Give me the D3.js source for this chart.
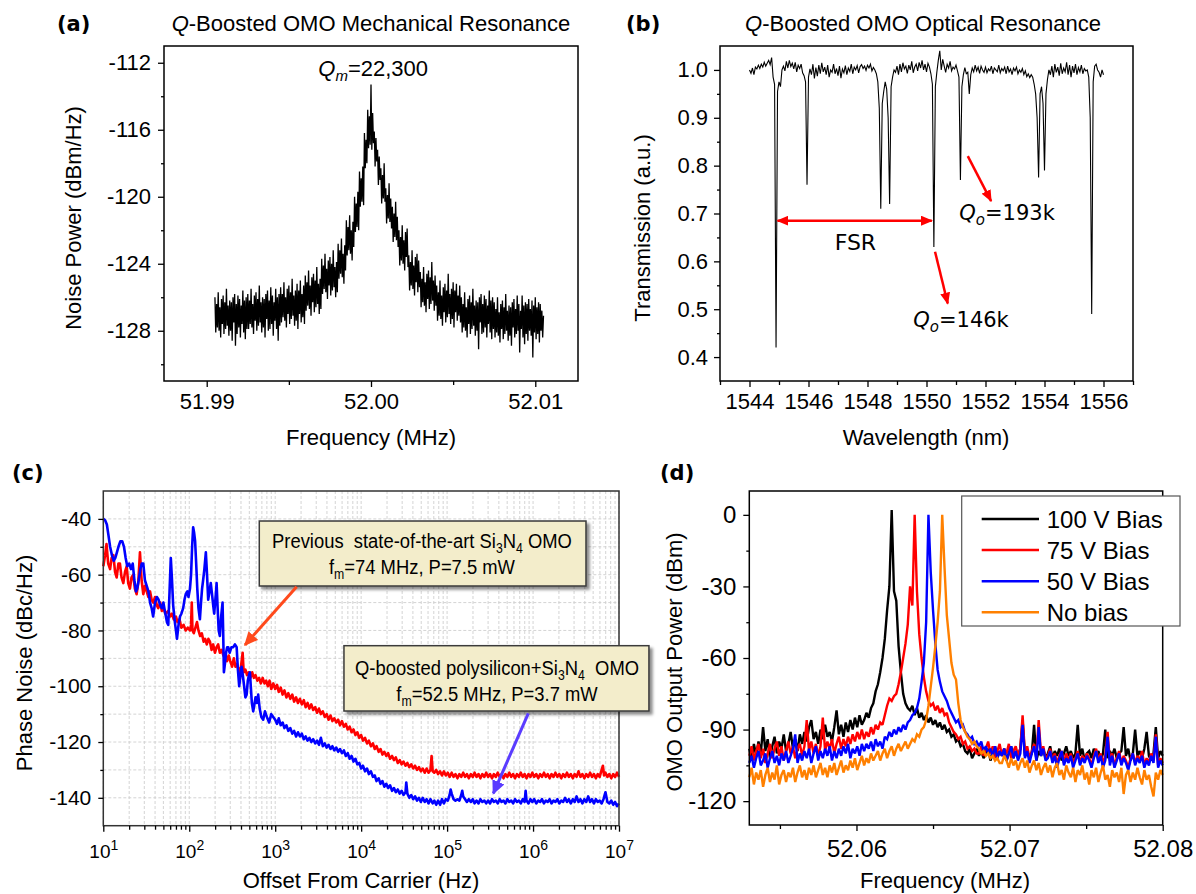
<!DOCTYPE html>
<html>
<head>
<meta charset="utf-8">
<script src="https://cdn.jsdelivr.net/npm/d3@7"></script>
<style>
  body { margin: 0; background: #fff; }
  svg { display: block; }
</style>
</head>
<body>
<script>
const width = 1196;
const height = 894;
const SANS = "'Liberation Sans', Arial, sans-serif";
const WIDE = "'DejaVu Sans', Verdana, sans-serif";

// ---------- (a) mechanical resonance: analyzer sweep, one value per bin ----------
const aFreqStart = 51.9905;
const aFreqStep = 0.00005;
const aNoise = [
  -126.0, -128.1, -126.4, -127.8, -125.7, -128.0, -126.6, -128.4, -126.1, -127.6, -125.9, -128.2, -126.3, -127.9, -125.5, -127.7, -126.5, -128.3, -126.2, -128.0,
  -126.3, -128.6, -126.0, -127.5, -125.8, -128.9, -126.4, -128.2, -125.9, -127.8, -126.1, -128.4, -126.5, -127.6, -125.6, -128.1, -126.2, -128.5, -126.0, -127.9,
  -125.8, -127.9, -126.2, -127.6, -125.5, -127.8, -126.4, -128.2, -125.9, -127.4, -125.7, -128.0, -126.1, -127.7, -125.3, -127.5, -126.3, -128.1, -126.0, -127.8,
  -126.1, -128.4, -125.8, -127.3, -125.6, -128.0, -126.2, -127.9, -125.4, -127.6, -125.9, -128.3, -126.3, -127.4, -125.5, -127.9, -126.0, -128.6, -125.8, -127.7,
  -125.4, -127.5, -125.8, -127.2, -125.1, -127.4, -126.0, -127.8, -125.5, -127.0, -125.3, -127.6, -125.7, -127.3, -124.9, -127.1, -125.9, -127.7, -125.6, -127.4,
  -125.2, -127.9, -125.6, -127.0, -125.0, -127.5, -125.8, -127.2, -125.3, -127.6,
  -124.7, -126.8, -125.1, -126.5, -124.4, -126.7, -125.3, -127.1, -124.8, -126.3, -124.6, -126.9, -125.0, -126.6, -124.2, -126.4, -125.2, -127.0, -124.9, -126.7,
  -123.7, -125.8, -124.1, -125.5, -123.4, -125.7, -124.3, -126.1, -123.8, -125.3, -123.6, -125.9, -124.0, -125.6, -123.2, -125.4, -124.2, -126.0, -123.9, -125.7,
  -122.8, -124.9, -123.2, -124.6, -122.5, -124.8, -123.4, -125.2, -122.9, -124.4,
  -121.4, -123.5, -121.8, -123.2, -121.1, -123.4, -122.0, -123.8, -121.5, -123.0,
  -120.0, -122.1, -120.4, -121.8, -119.7, -122.0,
  -118.5, -120.6, -118.9, -120.3, -118.2, -120.5,
  -116.2, -118.3, -116.6, -118.0,
  -114.8, -117.1, -115.2, -116.9, -113.3, -117.2, -115.0, -116.8,
  -116.1, -118.2, -116.5, -117.9,
  -117.2, -119.3, -117.6, -119.0,
  -118.3, -120.4, -118.7, -120.1, -118.0, -120.3,
  -119.5, -121.6, -119.9, -121.3, -119.2, -121.5, -120.1, -121.9,
  -120.6, -122.7, -121.0, -122.4, -120.3, -122.6, -121.2, -123.0,
  -122.0, -124.1, -122.4, -123.8, -121.7, -124.0, -122.6, -124.4, -122.1, -123.6, -121.9, -124.2,
  -123.5, -125.6, -123.9, -125.3, -123.2, -125.5, -124.1, -125.9, -123.6, -125.1, -123.4, -125.7, -123.8, -125.4,
  -124.5, -126.6, -124.9, -126.3, -124.2, -126.5, -125.1, -126.9, -124.6, -126.1, -124.4, -126.7, -124.8, -126.4, -123.9, -126.2, -125.0, -126.8, -124.7, -126.5,
  -125.3, -127.4, -125.7, -127.1, -125.0, -127.3, -125.9, -127.7, -125.4, -126.9, -125.2, -127.5, -125.6, -127.2, -124.6, -127.0, -125.8, -127.6, -125.5, -127.3,
  -125.1, -127.8, -125.6, -126.9, -125.2, -127.4, -125.9, -127.1, -125.3, -127.5,
  -126.0, -128.1, -126.4, -127.8, -125.7, -128.0, -126.6, -128.4, -126.1, -127.6, -125.9, -128.2, -126.3, -127.9, -125.5, -127.7, -126.5, -128.3, -126.2, -128.0,
  -126.3, -129.1, -126.0, -127.5, -125.8, -128.2, -126.4, -128.1, -125.9, -127.8, -126.1, -128.4, -126.5, -127.6, -125.6, -128.1, -126.2, -128.5, -126.0, -127.9,
  -126.3, -128.4, -126.7, -128.1, -126.0, -128.3, -126.9, -128.7, -126.4, -127.9, -126.2, -128.5, -126.6, -128.2, -125.8, -128.0, -126.8, -128.6, -126.5, -128.3,
  -126.6, -128.9, -126.3, -127.8, -126.1, -128.4, -126.7, -128.2, -125.9, -128.0, -126.4, -129.3, -126.8, -127.9, -125.9, -128.4, -126.5, -128.8, -126.3, -128.2,
  -126.4, -128.6, -126.1, -128.0, -126.7, -128.3, -126.2, -129.6, -126.5, -128.1, -126.0, -128.5, -126.6, -128.2, -126.3, -128.7, -126.4, -128.0, -126.8, -128.4,
  -127.1
];
const aYTicks = [-128, -124, -120, -116, -112];
const aYMinor = [-130, -126, -122, -118, -114];
const aXTicks = [51.99, 52.0, 52.01];
const aXMinor = [51.995, 52.005];

// ---------- (b) optical transmission: one value every 0.05 nm ----------
const bWaveStart = 1544;
const bWaveStep = 0.05;
const bTrans = [
  1.000, 0.993, 1.004, 0.990, 1.006, 1.002, 1.010, 1.003, 1.012, 1.006, 1.016, 1.008, 1.014, 1.020, 1.011, 1.026, 0.985, 0.970, 0.420, 0.955,
  0.975, 0.965, 1.000, 1.008, 0.998, 1.018, 1.004, 1.020, 1.007, 1.014, 1.002, 1.016, 0.996, 1.010, 1.003, 1.012, 0.994, 0.988, 0.975, 0.760,
  0.985, 1.002, 0.990, 1.012, 0.982, 1.005, 0.987, 1.010, 0.992, 1.015, 0.996, 1.006, 0.990, 1.010, 0.985, 1.000, 0.995, 1.012, 0.992, 1.003,
  0.988, 1.008, 0.983, 1.002, 0.994, 1.009, 0.990, 1.004, 0.997, 1.012, 0.992, 1.006, 1.000, 1.009, 0.994, 1.007, 1.011, 1.003, 1.008, 0.999,
  1.010, 1.004, 1.012, 0.998, 1.005, 1.000, 0.992, 0.975, 0.920, 0.710, 0.930, 0.955, 0.975, 0.960, 0.900, 0.720, 0.965, 0.985, 1.000, 0.995,
  1.008, 0.990, 1.012, 0.996, 1.015, 1.002, 1.008, 0.993, 1.010, 1.000, 1.018, 0.994, 1.006, 1.012, 0.998, 1.016, 1.004, 1.020, 1.000, 1.012,
  0.996, 1.014, 1.006, 0.992, 0.970, 0.630, 0.965, 0.995, 1.020, 1.040, 1.000, 1.022, 1.008, 0.995, 1.012, 1.004, 1.018, 0.998, 1.006, 1.002,
  1.010, 0.998, 0.985, 0.770, 0.965, 0.990, 1.005, 0.992, 0.995, 0.950, 0.990, 1.004, 0.996, 1.010, 0.998, 1.006, 0.993, 1.008, 1.000, 0.995,
  1.006, 0.994, 1.002, 0.998, 1.008, 0.992, 1.004, 1.000, 0.996, 1.010, 0.994, 1.003, 0.998, 1.006, 0.992, 1.008, 0.996, 1.002, 0.990, 1.004,
  0.998, 1.006, 0.992, 1.000, 0.995, 1.003, 0.990, 0.998, 0.986, 0.992, 0.984, 0.990, 0.985, 0.970, 0.950, 0.900, 0.775, 0.950, 0.965, 0.930,
  0.790, 0.950, 0.980, 1.000, 0.990, 1.008, 0.985, 1.012, 0.995, 1.006, 0.988, 1.014, 0.992, 1.004, 0.996, 1.016, 0.990, 1.010, 0.985, 1.008,
  0.994, 1.012, 0.990, 1.005, 0.996, 1.010, 0.992, 1.003, 0.998, 1.000, 0.985, 0.900, 0.490, 0.975, 1.008, 1.012, 1.000, 0.995, 0.985, 1.000,
  0.990
];
const bYTicks = [0.4, 0.5, 0.6, 0.7, 0.8, 0.9, 1.0];
const bYMinor = [0.45, 0.55, 0.65, 0.75, 0.85, 0.95];
const bXTicks = [1544, 1546, 1548, 1550, 1552, 1554, 1556];
const bXMinor = [1543, 1545, 1547, 1549, 1551, 1553, 1555, 1557];

// ---------- (c) phase noise, [offset Hz, dBc/Hz] ----------
const cPrevious = [
  [10,-57],[10.5,-53],[10.9,-49],[11.4,-56],[12,-58],[12.5,-54],[13.1,-53],[13.7,-59],[14.3,-61],[15,-56],[15.6,-56],[16.3,-61],[17.1,-63],[17.9,-59],[18.7,-57],
  [19.5,-63],[20.4,-65],[21.3,-61],[22.3,-60],[23.3,-65],[24.4,-67],[25.5,-63],[26.7,-52],[27.9,-62],[29.2,-67],[30.5,-64],[32,-66],[33.4,-68],[35,-66],[36.5,-69],
  [38.1,-70],[40,-68],[42,-71],[43.6,-72],[46,-70],[48,-73],[50,-72],[53,-74],[57,-73],[60,-75],[63,-74],[66,-76],[70,-75],[73,-77],[77,-76],[81,-79],[86,-78],
  [91,-80],[96,-79],[102,-80],[105,-78],[107,-70],[109,-80],[113,-81],[118,-79],[123,-77],[128,-80],[134,-82],[140,-81],[147,-84],[153,-83],[160,-85],[167,-83],
  [174,-84],[182,-87],[190,-85],[199,-88],[208,-86],[217,-85],[227,-88],[238,-87],[250,-89],[262,-88],[275,-91],[288,-89],[300,-91],[315,-93],[330,-90],[345,-93],
  [360,-92],[380,-95],[400,-93],[418,-88],[430,-95],[450,-94],[470,-96],[490,-95],[515,-97],[540,-95],[565,-97],[590,-96],[620,-98],[650,-97],[680,-99],[715,-97],
  [750,-99],[785,-98],[820,-100],[860,-98],[900,-101],[950,-99],
  [1000,-101],[1050,-99.5],[1100,-102],[1160,-100.5],[1220,-103],[1280,-101.5],[1350,-104],[1420,-102.5],[1500,-104.5],[1580,-103],[1660,-105.5],[1750,-104],
  [1840,-106],[1940,-104.5],[2040,-106.5],[2150,-105],[2260,-107.5],[2380,-106],[2500,-108],[2630,-106.5],[2770,-108.5],[2920,-107.5],[3070,-109.5],[3230,-108],
  [3400,-110],[3580,-109],[3770,-111],[3970,-110],[4180,-112],[4400,-110.5],[4630,-112.5],[4870,-111.5],[5130,-113],[5400,-112],[5680,-114],[5980,-112.5],
  [6300,-114.5],[6630,-113.5],[6980,-115.5],[7350,-114.5],[7740,-116.5],[8150,-115.5],[8580,-117.5],[9030,-116.5],[9500,-118.5],
  [1e4,-117.5],[1.05e4,-119.5],[1.11e4,-118.5],[1.17e4,-120.5],[1.23e4,-119.5],[1.3e4,-121.5],[1.37e4,-120.5],[1.44e4,-122.5],[1.51e4,-121.5],[1.6e4,-123.5],
  [1.68e4,-122.5],[1.77e4,-124.5],[1.86e4,-123.5],[1.96e4,-125],[2.06e4,-124],[2.17e4,-126],[2.29e4,-125],[2.41e4,-126.5],[2.53e4,-125.5],[2.67e4,-127.5],
  [2.81e4,-126.5],[2.96e4,-128],[3.11e4,-127],[3.28e4,-128.5],[3.45e4,-127.5],[3.63e4,-129],[3.83e4,-128],[4.03e4,-129.5],[4.24e4,-128.5],[4.47e4,-130],
  [4.7e4,-129],[4.95e4,-130.5],[5.21e4,-129.5],[5.49e4,-131],[5.78e4,-129.5],[6.08e4,-131],[6.4e4,-130],[6.6e4,-125],[6.8e4,-130.5],[7.1e4,-131],[7.47e4,-130],
  [7.86e4,-131.5],[8.28e4,-130.5],[8.72e4,-132],[9.18e4,-130.5],[9.66e4,-132],
  [1.02e5,-131],[1.07e5,-132.5],[1.13e5,-131],[1.19e5,-132.5],[1.25e5,-131.5],[1.32e5,-133],[1.39e5,-131.5],[1.46e5,-132.5],[1.54e5,-131],[1.62e5,-132.5],
  [1.7e5,-131.5],[1.79e5,-133],[1.89e5,-131.5],[1.99e5,-132.5],[2.09e5,-131],[2.2e5,-132.5],[2.32e5,-131.5],[2.44e5,-133],[2.57e5,-131.5],[2.71e5,-132.5],
  [2.85e5,-131],[3e5,-132.5],[3.16e5,-131.5],[3.33e5,-133],[3.5e5,-131.5],[3.69e5,-132.5],[3.88e5,-131],[4.09e5,-132.5],[4.3e5,-131.5],[4.53e5,-133],
  [4.77e5,-131.5],[5.02e5,-132.5],[5.29e5,-131],[5.57e5,-132.5],[5.86e5,-131.5],[6.17e5,-133],[6.5e5,-131.5],[6.84e5,-132.5],[7.2e5,-131],[7.58e5,-132.5],
  [7.98e5,-131.5],[8.4e5,-133],[8.85e5,-131.5],[9.32e5,-132.5],[9.81e5,-131],
  [1.03e6,-132.5],[1.09e6,-131.5],[1.15e6,-133],[1.21e6,-131.5],[1.27e6,-132.5],[1.34e6,-131],[1.41e6,-132.5],[1.48e6,-131.5],[1.56e6,-133],[1.64e6,-131.5],
  [1.73e6,-132.5],[1.82e6,-131],[1.92e6,-132.5],[2.02e6,-131.5],[2.13e6,-133],[2.24e6,-131.5],[2.36e6,-132.5],[2.48e6,-131],[2.61e6,-132.5],[2.75e6,-131.5],
  [2.9e6,-133],[3.05e6,-131.5],[3.21e6,-132.5],[3.38e6,-130.5],[3.56e6,-132.5],[3.75e6,-131.5],[3.95e6,-133],[4.16e6,-131.5],[4.38e6,-132.5],[4.61e6,-131],
  [4.85e6,-132.5],[5.11e6,-131.5],[5.38e6,-133],[5.66e6,-131.5],[5.96e6,-132.5],[6.28e6,-130],[6.5e6,-128.5],[6.7e6,-132],[6.96e6,-131],[7.33e6,-132.5],
  [7.72e6,-131.5],[8.13e6,-133],[8.56e6,-131.5],[9.01e6,-132.5],[9.49e6,-131],[1e7,-132.5]
];
const cBoosted = [
  [10,-40],[10.5,-40.5],[11,-42],[11.5,-46],[12,-50],[12.6,-53],[13.2,-55],[13.8,-54],[14.4,-52],[15,-50],[15.8,-48],[16.6,-48],[17.4,-50],[18.2,-54],[19,-57],
  [20,-56],[21,-58],[22,-56],[23,-62],[24,-66],[24.8,-65],[25.8,-62],[27,-58],[28,-56],[29.2,-56],[30.5,-62],[32,-64],[33.5,-66],[35,-70],[36.5,-72],[38,-75],
  [40,-70],[42,-68],[44,-69],[46,-71],[48,-72],[50,-70],[52,-73],[55,-77],[57,-78],[59,-66],[61,-54],[63,-62],[65,-71],[68,-77],[70,-80],[72,-83],[75,-78],
  [78,-75],[81,-74],[85,-72],[88,-69],[91,-67],[95,-66],[98,-68],[102,-65],[105,-60],[108,-50],[111,-43],[114,-45],[117,-48],[120,-55],[124,-65],[128,-72],
  [133,-76],[137,-70],[141,-65],[145,-62],[150,-58],[156,-52],[161,-60],[166,-69],[172,-66],[178,-63],[184,-67],[190,-71],[195,-74],[200,-70],[205,-66],
  [208,-63],[214,-72],[220,-80],[227,-82],[235,-75],[244,-70],[248,-80],[253,-95],[260,-92],[268,-88],[276,-86],[284,-86],[295,-88],[310,-86],[325,-86],
  [340,-85],[356,-86],[368,-94],[381,-100],[395,-96],[406,-93],[420,-96],[435,-100],[450,-104],[465,-103],[480,-98],[495,-96],[508,-95],[520,-100],[535,-106],
  [555,-109],[570,-107],[590,-104],[610,-106],[634,-103],[660,-108],[690,-111],[725,-112],[760,-109],[800,-111],[850,-113],[900,-110],[948,-111],
  [1000,-112],[1050,-113.5],[1100,-111.5],[1160,-114],[1220,-113],[1280,-115],[1350,-114],[1420,-116],[1500,-115],[1580,-117],[1660,-116],[1750,-118],
  [1840,-116.5],[1940,-118],[2040,-117],[2150,-119],[2260,-118],[2380,-119.5],[2500,-118.5],[2630,-120],[2770,-119],[2920,-120.5],[3070,-119.5],[3230,-121],
  [3400,-118.5],[3580,-121.5],[3770,-120.5],[3970,-122],[4180,-121],[4400,-122.5],[4630,-121.5],[4870,-123],[5130,-122],[5400,-123.5],[5680,-122.5],
  [5980,-124],[6300,-123],[6630,-125],[6980,-124],[7350,-126],[7740,-125],[8150,-127],[8580,-126],[9030,-128],[9500,-127.5],
  [1e4,-129.5],[1.05e4,-128.5],[1.11e4,-130.5],[1.17e4,-129.5],[1.23e4,-131.5],[1.3e4,-130.5],[1.37e4,-132.5],[1.44e4,-132],[1.51e4,-134],[1.6e4,-133],
  [1.68e4,-135],[1.77e4,-134],[1.86e4,-136],[1.96e4,-135],[2.06e4,-136.5],[2.17e4,-135.5],[2.29e4,-137.5],[2.41e4,-136.5],[2.53e4,-138],[2.67e4,-137],
  [2.81e4,-138.5],[2.96e4,-137.5],[3.11e4,-139],[3.28e4,-138],[3.35e4,-134.5],[3.45e4,-138.5],[3.63e4,-140],[3.83e4,-139],[4.03e4,-140.5],[4.24e4,-139.5],
  [4.47e4,-141],[4.7e4,-140],[4.95e4,-141.5],[5.21e4,-140],[5.49e4,-141.5],[5.78e4,-140.5],[6.08e4,-142],[6.4e4,-140.5],[6.8e4,-142],[7.1e4,-141],
  [7.47e4,-142.5],[7.86e4,-141],[8.28e4,-142.5],[8.72e4,-140.5],[9.18e4,-142],[9.66e4,-140.5],
  [1.02e5,-141],[1.07e5,-139],[1.1e5,-137],[1.13e5,-138.5],[1.19e5,-140.5],[1.25e5,-141],[1.32e5,-140.5],[1.39e5,-141],[1.46e5,-139],[1.5e5,-137.5],
  [1.54e5,-139.5],[1.62e5,-140.5],[1.7e5,-141.5],[1.79e5,-140.5],[1.89e5,-141.5],[1.99e5,-140.5],[2.09e5,-142],[2.2e5,-141],[2.32e5,-142],[2.44e5,-140.5],
  [2.57e5,-141.5],[2.71e5,-141],[2.85e5,-142],[3e5,-141],[3.16e5,-142],[3.33e5,-140.5],[3.5e5,-141.5],[3.69e5,-141],[3.88e5,-142],[4.09e5,-140.5],
  [4.3e5,-141.5],[4.53e5,-141],[4.77e5,-142],[5.02e5,-140.5],[5.29e5,-141.5],[5.57e5,-141],[5.86e5,-142],[6.17e5,-140.5],[6.5e5,-141.5],[6.84e5,-141],
  [7.2e5,-142],[7.58e5,-140.5],[7.98e5,-141.5],[8.2e5,-137.5],[8.4e5,-141],[8.85e5,-142],[9.32e5,-140.5],[9.81e5,-141.5],
  [1.03e6,-140.5],[1.09e6,-142],[1.15e6,-141],[1.21e6,-141.5],[1.27e6,-140.5],[1.34e6,-142],[1.41e6,-141],[1.48e6,-141.5],[1.56e6,-140.5],[1.64e6,-142],
  [1.73e6,-141],[1.82e6,-141.5],[1.92e6,-140.5],[2.02e6,-142],[2.13e6,-141],[2.24e6,-141.5],[2.36e6,-140],[2.48e6,-141.5],[2.61e6,-140.5],[2.75e6,-142],
  [2.9e6,-140.5],[3.05e6,-141.5],[3.21e6,-139.5],[3.38e6,-141.5],[3.56e6,-140.5],[3.75e6,-142],[3.95e6,-140.5],[4.16e6,-141.5],[4.38e6,-139.5],[4.61e6,-141.5],
  [4.85e6,-140.5],[5.11e6,-142],[5.38e6,-140.5],[5.66e6,-141.5],[5.96e6,-141],[6.28e6,-142],[6.6e6,-140.5],[6.96e6,-138],[7.33e6,-141.5],[7.72e6,-142],
  [8.13e6,-141],[8.56e6,-142.5],[9.01e6,-141.5],[9.49e6,-143],[1e7,-142]
];
const cYTicks = [-140, -120, -100, -80, -60, -40];
const cYMinor = [-130, -110, -90, -70, -50];
const cGridY = [-140, -130, -120, -110, -100, -90, -80, -70, -60, -50, -40];
const cDecades = [1e1, 1e2, 1e3, 1e4, 1e5, 1e6, 1e7];
const cMinorMantissa = [2, 3, 4, 5, 6, 7, 8, 9];

// ---------- (d) OMO output spectra: one value per 0.00015 MHz bin ----------
const dFreqStart = 52.053;
const dFreqStep = 0.00015;
const dBias100 = [
  -98, -103, -96, -101, -95, -100, -89, -99, -94, -102,
  -97, -93, -100, -95, -98, -92, -99, -96, -91, -98,
  -94, -99, -92, -96, -91, -95, -89, -86, -94, -91,
  -96, -90, -94, -88, -93, -91, -95, -89, -82, -92,
  -88, -93, -87, -91, -86, -90, -85, -89, -84, -88,
  -86, -83, -85, -81, -79, -74, -71, -66, -60, -52,
  -40, -30, 2, -32, -36, -55, -66, -75, -79, -81,
  -82, -80, -84, -81, -85, -83, -86, -84, -87, -85,
  -88, -86, -89, -87, -90, -88, -91, -90, -93, -92,
  -95, -94, -97, -96, -99, -100, -98, -102, -100, -98,
  -101, -99, -102, -100, -98, -103, -100, -97, -102, -99,
  -101, -98, -103, -100, -97, -102, -99, -101, -98, -86,
  -101, -99, -102, -100, -88, -103, -99, -101, -98, -102,
  -100, -97, -102, -99, -101, -98, -103, -100, -97, -101,
  -99, -102, -100, -88, -101, -98, -103, -100, -99, -102,
  -98, -101, -99, -103, -100, -90, -102, -99, -101, -98,
  -102, -100, -99, -89, -101, -98, -103, -100, -90, -101,
  -99, -102, -98, -91, -101, -103, -100, -89, -102, -99,
  -101
];
const dBias75 = [
  -101, -97, -103, -99, -96, -102, -98, -104, -100, -96,
  -102, -98, -95, -101, -97, -103, -99, -95, -100, -97,
  -102, -98, -96, -101, -97, -86, -99, -95, -100, -96,
  -101, -97, -85, -99, -95, -98, -94, -100, -96, -93,
  -98, -94, -97, -93, -96, -92, -95, -91, -94, -90,
  -94, -91, -93, -89, -92, -88, -90, -87, -88, -84,
  -80, -77, -78, -76, -75, -71, -66, -60, -54, -46,
  -30, -38, 0, -32, -50, -60, -68, -74, -78, -80,
  -79, -82, -80, -83, -81, -84, -83, -87, -89, -91,
  -92, -94, -93, -96, -95, -98, -97, -99, -98, -100,
  -100, -97, -101, -98, -95, -100, -97, -102, -99, -96,
  -101, -98, -100, -96, -102, -99, -97, -101, -98, -84,
  -100, -97, -102, -99, -96, -101, -86, -100, -97, -102,
  -101, -98, -103, -100, -104, -101, -99, -104, -100, -103,
  -100, -104, -102, -99, -104, -101, -103, -100, -102, -105,
  -101, -98, -103, -100, -104, -101, -91, -103, -100, -105,
  -102, -99, -104, -101, -103, -106, -102, -100, -104, -101,
  -103, -99, -105, -102, -104, -100, -103, -92, -105, -102,
  -104
];
const dBias50 = [
  -104, -101, -106, -102, -99, -105, -103, -100, -106, -102,
  -99, -104, -101, -105, -100, -103, -99, -104, -101, -98,
  -92, -104, -100, -103, -99, -102, -98, -104, -100, -97,
  -103, -99, -102, -98, -101, -97, -103, -99, -102, -98,
  -101, -97, -100, -96, -102, -98, -100, -97, -101, -96,
  -99, -96, -98, -95, -99, -94, -97, -95, -98, -93,
  -94, -91, -93, -90, -92, -89, -91, -88, -90, -87,
  -86, -84, -83, -81, -77, -70, -62, -45, 0, -24,
  -40, -54, -65, -70, -74, -76, -78, -81, -83, -85,
  -87, -86, -89, -88, -91, -92, -94, -93, -96, -95,
  -97, -95, -99, -97, -100, -98, -101, -97, -102, -99,
  -101, -98, -103, -100, -97, -102, -99, -103, -100, -88,
  -102, -99, -104, -100, -97, -103, -89, -101, -98, -103,
  -102, -99, -104, -101, -106, -102, -99, -105, -102, -104,
  -101, -106, -103, -100, -105, -102, -104, -101, -103, -106,
  -102, -99, -104, -101, -106, -103, -93, -105, -101, -106,
  -103, -100, -105, -102, -104, -107, -103, -100, -105, -102,
  -104, -101, -106, -103, -105, -101, -104, -93, -106, -103,
  -105
];
const dNoBias = [
  -110, -106, -113, -108, -111, -107, -114, -109, -106, -112,
  -108, -111, -105, -113, -109, -107, -112, -108, -110, -106,
  -112, -108, -105, -110, -107, -111, -106, -109, -105, -110,
  -107, -104, -109, -106, -110, -105, -108, -104, -109, -106,
  -103, -108, -105, -107, -103, -106, -102, -107, -104, -101,
  -105, -102, -104, -100, -103, -101, -99, -103, -100, -98,
  -102, -99, -97, -101, -98, -96, -99, -97, -95, -98,
  -96, -94, -95, -92, -93, -90, -89, -86, -80, -72,
  -64, -55, -45, -32, 0, -22, -42, -52, -62, -67,
  -69, -79, -86, -89, -91, -93, -94, -96, -95, -97,
  -98, -100, -99, -101, -100, -102, -101, -103, -102, -104,
  -104, -101, -103, -106, -102, -105, -103, -107, -104, -102,
  -106, -103, -108, -105, -103, -107, -104, -109, -106, -104,
  -108, -105, -110, -106, -104, -109, -107, -111, -105, -108,
  -110, -106, -112, -107, -109, -105, -111, -108, -113, -107,
  -110, -106, -112, -108, -105, -111, -109, -114, -107, -110,
  -108, -112, -106, -117, -109, -107, -112, -108, -111, -106,
  -110, -113, -107, -111, -109, -114, -118, -108, -111, -107,
  -109
];
const dLabels = ["100 V Bias", "75 V Bias", "50 V Bias", "No bias"];
const dColors = ["#000000", "#ff0000", "#0000ff", "#ff8000"];
const dValues = [dBias100, dBias75, dBias50, dNoBias];
const dYTicks = [-120, -90, -60, -30, 0];
const dYMinor = [-105, -75, -45, -15];
const dXTicks = [52.06, 52.07, 52.08];
const dXMinor = [52.055, 52.065, 52.075];

// ---------- layout ----------
const PA = { l: 164, r: 578, t: 46, b: 381 };
const PB = { l: 720, r: 1133, t: 46, b: 381 };
const PC = { l: 103.3, r: 619, t: 491, b: 825.7 };
const PD = { l: 749.3, r: 1162.7, t: 491, b: 825 };

const svg = d3.select("body").append("svg")
  .attr("width", width).attr("height", height)
  .attr("font-family", SANS);

const defs = svg.append("defs");
function arrowMarker(id, color, len, wid) {
  defs.append("marker")
    .attr("id", id)
    .attr("viewBox", "0 0 10 10")
    .attr("preserveAspectRatio", "none")
    .attr("refX", 9).attr("refY", 5)
    .attr("markerUnits", "userSpaceOnUse")
    .attr("markerWidth", len).attr("markerHeight", wid)
    .attr("orient", "auto-start-reverse")
    .append("path").attr("d", "M0,0L10,5L0,10z").attr("fill", color);
}
arrowMarker("headRed", "#ff0000", 12, 10);
arrowMarker("headOrange", "#ff4a1c", 14, 13);
arrowMarker("headViolet", "#5a3cff", 14, 13);
defs.append("filter").attr("id", "shadow")
  .attr("x", "-5%").attr("y", "-10%").attr("width", "115%").attr("height", "135%")
  .append("feDropShadow")
  .attr("dx", 3).attr("dy", 3).attr("stdDeviation", 1.8)
  .attr("flood-color", "#000").attr("flood-opacity", 0.45);

function axis(gen, tx, ty, size) {
  const g = svg.append("g").attr("transform", `translate(${tx},${ty})`).call(gen);
  g.select(".domain").remove();
  g.attr("font-family", null).attr("font-size", null);
  g.selectAll(".tick line").attr("stroke", "#000").attr("stroke-width", 1.3);
  g.selectAll(".tick text").attr("font-size", size).attr("font-family", SANS).attr("fill", "#000");
  return g;
}

function frame(P, color) {
  svg.append("rect")
    .attr("x", P.l).attr("y", P.t)
    .attr("width", P.r - P.l).attr("height", P.b - P.t)
    .attr("fill", "none").attr("stroke", color || "#000").attr("stroke-width", 1.5);
}

// text made of runs: [string, kind] with kind "", "i", "sub", "isub"
function rich(text, parts, subSize, shift) {
  let off = 0;
  parts.forEach(([s, kind]) => {
    const ts = text.append("tspan").text(s);
    const isSub = kind === "sub" || kind === "isub";
    const target = isSub ? shift : 0;
    if (target !== off) { ts.attr("dy", target - off); off = target; }
    if (isSub) ts.attr("font-size", subSize);
    if (kind === "i" || kind === "isub") ts.attr("font-style", "italic");
  });
  return text;
}

function label(x, y, str, opts) {
  const t = svg.append("text").attr("x", x).attr("y", y)
    .attr("font-size", opts.size || 22)
    .attr("font-family", opts.family || SANS)
    .attr("text-anchor", opts.anchor || "middle")
    .attr("fill", "#000");
  if (opts.bold) t.attr("font-weight", "bold");
  if (opts.rotate) t.attr("transform", `rotate(-90,${x},${y})`);
  t.text(str);
  return t;
}

const fmtPlain = d => String(d);

// ================= (a) =================
const xA = d3.scaleLinear().domain([51.9874, 52.0126]).range([PA.l, PA.r]);
const yA = d3.scaleLinear().domain([-131, -111]).range([PA.b, PA.t]);

svg.append("path")
  .attr("d", d3.line()
    .x((d, i) => xA(aFreqStart + i * aFreqStep))
    .y(d => yA(d))(aNoise))
  .attr("fill", "none").attr("stroke", "#000").attr("stroke-width", 1.3)
  .attr("stroke-linejoin", "miter").attr("stroke-miterlimit", 2);
frame(PA);
axis(d3.axisLeft(yA).tickValues(aYTicks).tickSize(6).tickPadding(7).tickFormat(fmtPlain), PA.l, 0, 22);
axis(d3.axisLeft(yA).tickValues(aYMinor).tickSize(3).tickFormat(""), PA.l, 0, 22);
axis(d3.axisBottom(xA).tickValues(aXTicks).tickSize(6).tickPadding(6).tickFormat(d3.format(".2f")), 0, PA.b, 22);
axis(d3.axisBottom(xA).tickValues(aXMinor).tickSize(4).tickFormat(""), 0, PA.b, 22);

label(57, 31, "(a)", { size: 21, family: WIDE, bold: true, anchor: "start" });
rich(label(371, 31, "", { size: 22 }), [["Q", "i"], ["-Boosted OMO Mechanical Resonance", ""]], 15, 5);
label(81, 218, "Noise Power (dBm/Hz)", { size: 22, rotate: true });
label(371, 445, "Frequency (MHz)", { size: 22 });
rich(label(xA(51.99679), yA(-112.82), "", { size: 22, anchor: "start" }),
  [["Q", "i"], ["m", "isub"], ["=22,300", ""]], 15, 5);

// ================= (b) =================
const xB = d3.scaleLinear().domain([1543, 1557]).range([PB.l, PB.r]);
const yB = d3.scaleLinear().domain([0.35, 1.05]).range([PB.b, PB.t]);

svg.append("path")
  .attr("d", d3.line()
    .x((d, i) => xB(bWaveStart + i * bWaveStep))
    .y(d => yB(d))(bTrans))
  .attr("fill", "none").attr("stroke", "#000").attr("stroke-width", 1.1);
frame(PB);
axis(d3.axisLeft(yB).tickValues(bYTicks).tickSize(6).tickPadding(6).tickFormat(d3.format(".1f")), PB.l, 0, 22);
axis(d3.axisLeft(yB).tickValues(bYMinor).tickSize(3).tickFormat(""), PB.l, 0, 22);
axis(d3.axisBottom(xB).tickValues(bXTicks).tickSize(6).tickPadding(6).tickFormat(fmtPlain), 0, PB.b, 22);
axis(d3.axisBottom(xB).tickValues(bXMinor).tickSize(4).tickFormat(""), 0, PB.b, 22);

label(626, 31, "(b)", { size: 21, family: WIDE, bold: true, anchor: "start" });
rich(label(923, 31, "", { size: 22 }), [["Q", "i"], ["-Boosted OMO Optical Resonance", ""]], 15, 5);
label(650, 228, "Transmission (a.u.)", { size: 22, rotate: true });
label(926, 445, "Wavelength (nm)", { size: 22 });

function arrow(x1, y1, x2, y2, color, w, head, both) {
  const l = svg.append("line")
    .attr("x1", x1).attr("y1", y1).attr("x2", x2).attr("y2", y2)
    .attr("stroke", color).attr("stroke-width", w)
    .attr("marker-end", `url(#${head})`);
  if (both) l.attr("marker-start", `url(#${head})`);
}
arrow(xB(1544.95), yB(0.685), xB(1550.18), yB(0.685), "#ff0000", 2.5, "headRed", true);
arrow(xB(1551.40), yB(0.820), xB(1552.19), yB(0.726), "#ff0000", 2.5, "headRed", false);
arrow(xB(1550.29), yB(0.620), xB(1550.72), yB(0.512), "#ff0000", 2.5, "headRed", false);
label(xB(1547.59), yB(0.624), "FSR", { size: 22, family: WIDE });
rich(label(xB(1551.11), yB(0.686), "", { size: 21, family: WIDE, anchor: "start" }),
  [["Q", "i"], ["o", "isub"], ["=193k", ""]], 15, 5);
rich(label(xB(1549.55), yB(0.463), "", { size: 21, family: WIDE, anchor: "start" }),
  [["Q", "i"], ["o", "isub"], ["=146k", ""]], 15, 5);

// ================= (c) =================
const xC = d3.scaleLog().domain([10, 1e7]).range([PC.l, PC.r]);
const yC = d3.scaleLinear().domain([-150, -30]).range([PC.b, PC.t]);
const cMinor = [];
cDecades.slice(0, -1).forEach(dec => cMinorMantissa.forEach(m => cMinor.push(m * dec)));

const gridC = svg.append("g").attr("stroke", "#cfcfcf").attr("stroke-width", 0.9).attr("stroke-dasharray", "3,2");
gridC.selectAll("line.v").data(cDecades.concat(cMinor)).join("line")
  .attr("x1", d => xC(d)).attr("x2", d => xC(d)).attr("y1", PC.t).attr("y2", PC.b);
gridC.selectAll("line.h").data(cGridY).join("line")
  .attr("class", "h")
  .attr("x1", PC.l).attr("x2", PC.r).attr("y1", d => yC(d)).attr("y2", d => yC(d));

const lineC = d3.line().x(d => xC(d[0])).y(d => yC(d[1]));
svg.append("path").attr("d", lineC(cPrevious))
  .attr("fill", "none").attr("stroke", "#ff0000").attr("stroke-width", 2.6).attr("stroke-linejoin", "round");
svg.append("path").attr("d", lineC(cBoosted))
  .attr("fill", "none").attr("stroke", "#0000ff").attr("stroke-width", 2.6).attr("stroke-linejoin", "round");
frame(PC, "#333");

axis(d3.axisLeft(yC).tickValues(cYTicks).tickSize(5).tickPadding(7).tickFormat(fmtPlain), PC.l, 0, 21);
axis(d3.axisLeft(yC).tickValues(cYMinor).tickSize(3).tickFormat(""), PC.l, 0, 21);
const cxAxis = axis(d3.axisBottom(xC).tickValues(cDecades).tickSize(6).tickPadding(13).tickFormat(fmtPlain), 0, PC.b, 19);
cxAxis.selectAll(".tick text").each(function (d) {
  const t = d3.select(this);
  t.text(null);
  t.append("tspan").text("10");
  t.append("tspan").attr("dy", -8).attr("font-size", 14).text(Math.round(Math.log10(d)));
});
axis(d3.axisBottom(xC).tickValues(cMinor).tickSize(4).tickFormat(""), 0, PC.b, 19);

label(12, 480, "(c)", { size: 21, family: WIDE, bold: true, anchor: "start" });
label(32, 663, "Phase Noise (dBc/Hz)", { size: 22, rotate: true });
label(361, 888, "Offset From Carrier (Hz)", { size: 22 });

function noteBox(f0, f1, v0, v1, fc, base1, base2, line1, line2) {
  svg.append("rect")
    .attr("x", xC(f0)).attr("y", yC(v0))
    .attr("width", xC(f1) - xC(f0)).attr("height", yC(v1) - yC(v0))
    .attr("fill", "#f3edcb").attr("stroke", "#3a3a3a").attr("stroke-width", 1.5)
    .attr("filter", "url(#shadow)");
  [[base1, line1], [base2, line2]].forEach(([b, parts]) => {
    const g = svg.append("g").attr("transform", `translate(${xC(fc)},${yC(b)}) scale(0.876,1)`);
    const t = g.append("text").attr("x", 0).attr("y", 0)
      .attr("font-size", 21).attr("text-anchor", "middle").attr("fill", "#000")
      .attr("xml:space", "preserve");
    rich(t, parts, 14, 5);
  });
}
noteBox(653, 4.13e6, -40.76, -64.06, 5.1e4, -50.54, -59.76,
  [["Previous  state-of-the-art Si", ""], ["3", "sub"], ["N", ""], ["4", "sub"], [" OMO", ""]],
  [["f", ""], ["m", "sub"], ["=74 MHz, P=7.5 mW", ""]]);
noteBox(6310, 2.23e7, -85.46, -108.88, 3.81e5, -95.97, -105.18,
  [["Q-boosted polysilicon+Si", ""], ["3", "sub"], ["N", ""], ["4", "sub"], ["  OMO", ""]],
  [["f", ""], ["m", "sub"], ["=52.5 MHz, P=3.7 mW", ""]]);
arrow(xC(1778), yC(-64.3), xC(445), yC(-85.2), "#ff4a1c", 3, "headOrange", false);
arrow(xC(8.81e5), yC(-109.7), xC(3.45e5), yC(-138.4), "#5a3cff", 3, "headViolet", false);

// ================= (d) =================
const xD = d3.scaleLinear().domain([52.053, 52.08]).range([PD.l, PD.r]);
const yD = d3.scaleLinear().domain([-130, 10]).range([PD.b, PD.t]);
const lineD = d3.line().x((d, i) => xD(dFreqStart + i * dFreqStep)).y(d => yD(d));
dValues.forEach((vals, k) => {
  svg.append("path").attr("d", lineD(vals))
    .attr("fill", "none").attr("stroke", dColors[k]).attr("stroke-width", 2.4)
    .attr("stroke-linejoin", "miter").attr("stroke-miterlimit", 2);
});
frame(PD);
axis(d3.axisLeft(yD).tickValues(dYTicks).tickSize(6).tickPadding(7).tickFormat(fmtPlain), PD.l, 0, 24);
axis(d3.axisLeft(yD).tickValues(dYMinor).tickSize(3).tickFormat(""), PD.l, 0, 24);
axis(d3.axisBottom(xD).tickValues(dXTicks).tickSize(6).tickPadding(9).tickFormat(d3.format(".2f")), 0, PD.b, 24);
axis(d3.axisBottom(xD).tickValues(dXMinor).tickSize(4).tickFormat(""), 0, PD.b, 24);

label(660, 480, "(d)", { size: 21, family: WIDE, bold: true, anchor: "start" });
label(682, 662, "OMO Output Power (dBm)", { size: 22, rotate: true });
label(945, 888, "Frequency (MHz)", { size: 22 });

const legend = svg.append("g").attr("transform", `translate(${PD.r - 201},${PD.t + 5})`);
legend.append("rect").attr("width", 218.3).attr("height", 130)
  .attr("fill", "#fff").attr("stroke", "#555").attr("stroke-width", 1.2);
const rows = legend.selectAll("g.row").data(dLabels).join("g")
  .attr("transform", (d, i) => `translate(0,${23 + i * 31.1})`);
rows.append("line").attr("x1", 20).attr("x2", 77.3).attr("y1", 0).attr("y2", 0)
  .attr("stroke", (d, i) => dColors[i]).attr("stroke-width", 2.5);
rows.append("text").attr("x", 85).attr("y", 8.6)
  .attr("font-size", 24).attr("fill", "#000").text(d => d);
</script>
</body>
</html>
